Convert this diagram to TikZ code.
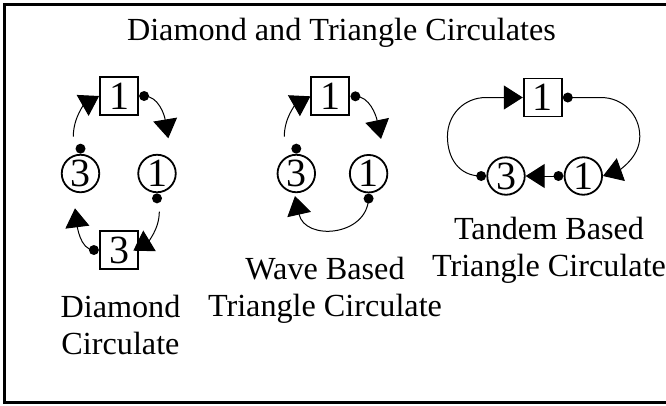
\documentclass[tikz,border=0pt]{standalone}
\usepackage{fontspec}
\setmainfont{Liberation Serif}
\usetikzlibrary{arrows.meta}
\usetikzlibrary{positioning}

\tikzset{
  delay/.style={draw, line width=1.8pt, minimum size=38pt, inner sep=0pt, font=\fontsize{40}{40}\selectfont},
  gain/.style={draw, circle, line width=1.8pt, minimum size=37.5pt, inner sep=0pt, font=\fontsize{40}{40}\selectfont},
  port/.style={circle, fill, inner sep=0pt, minimum size=10pt},
  flow/.style={line width=1pt, -{Triangle[length=19pt,width=24pt]}},
  note/.style={align=center, anchor=base, inner sep=0pt, font=\fontsize{32.2}{37}\selectfont},
}

\begin{document}
\begin{tikzpicture}[x=1pt,y=-1pt]
\useasboundingbox (0,0) rectangle (666,405);
\draw[line width=3pt] (666,4.5) -- (4.5,4.5) -- (4.5,402.5) -- (666,402.5);
\node[note] (title) at (341.5,40) {Diamond and Triangle Circulates};

% diamond circulate
\node[delay] (d1) at (119,96) {1};
\node[delay] (d3) at (119,250) {3};
\node[gain] (dc3) at (80.5,173.5) {3};
\node[gain] (dc1) at (157,173.5) {1};
\node[port, right=0pt of d1] (d1p) {};
\node[port, above=0pt of dc3] (dc3p) {};
\node[port, below=0pt of dc1] (dc1p) {};
\node[port, left=0pt of d3] (d3p) {};
\coordinate (da) at (168.3,138.3);
\coordinate (db) at (73.3,136.7);
\coordinate (dc) at (159.3,211.7);
\coordinate (dd) at (133.3,250.7);
\coordinate (de) at (75,208.3);
\draw[flow] (d1p.center) .. controls +(14,0) and +(-4,-24) .. (da);
\draw[flow] (db) .. controls +(0,-20) and +(-14,8) .. (d1.west);
\draw[flow] (dc) .. controls +(0,18) and +(14,-8.5) .. (dd);
\draw[flow] (d3p.center) .. controls +(-14,0) and +(2,16) .. (de);
\node[note] (dlab) at (120.5,354) {Diamond\\Circulate};

% wave based
\node[delay] (w1) at (330.3,96.3) {1};
\node[gain] (wc3) at (296.3,173.5) {3};
\node[gain] (wc1) at (368.6,173.7) {1};
\node[port, right=0pt of w1] (w1p) {};
\node[port, above=0pt of wc3] (wc3p) {};
\node[port, below=0pt of wc1] (wc1p) {};
\coordinate (wa) at (381,139);
\coordinate (wb) at (284.3,136.7);
\coordinate (wc) at (295,196);
\draw[flow] (w1p.center) .. controls +(14,0) and +(-5,-24) .. (wa);
\draw[flow] (wb) .. controls +(0,-20) and +(-14,8) .. (w1.west);
\draw[flow] (wc1p.center) .. controls +(-2,38) and +(10,45) .. (wc);
\node[note] (wlab) at (325,316.5) {Wave Based\\Triangle Circulate};

% tandem based
\node[delay] (t1) at (542.7,97.5) {1};
\node[gain] (tc3) at (506,176) {3};
\node[gain] (tc1) at (583.3,176) {1};
\node[port, right=0pt of t1] (t1p) {};
\node[port, left=0pt of tc1] (tc1p) {};
\node[port, left=0pt of tc3] (tc3p) {};
\draw[flow] (t1p.center) -- ++(33,0) .. controls +(22,0) and +(0,-22) .. ++(39,39) .. controls +(0,22) and +(14,-5) .. (tc1.east);
\draw[flow] (tc1p.center) -- (tc3.east);
\draw[flow] (tc3p.center) .. controls +(-22,0) and +(0,22) .. ++(-33.7,-39.5) .. controls +(0,-22) and +(-22,0) .. ++(38.7,-39) -- (t1.west);
\node[note] (tlab) at (549,276.7) {Tandem Based\\Triangle Circulate};
\end{tikzpicture}
\end{document}
